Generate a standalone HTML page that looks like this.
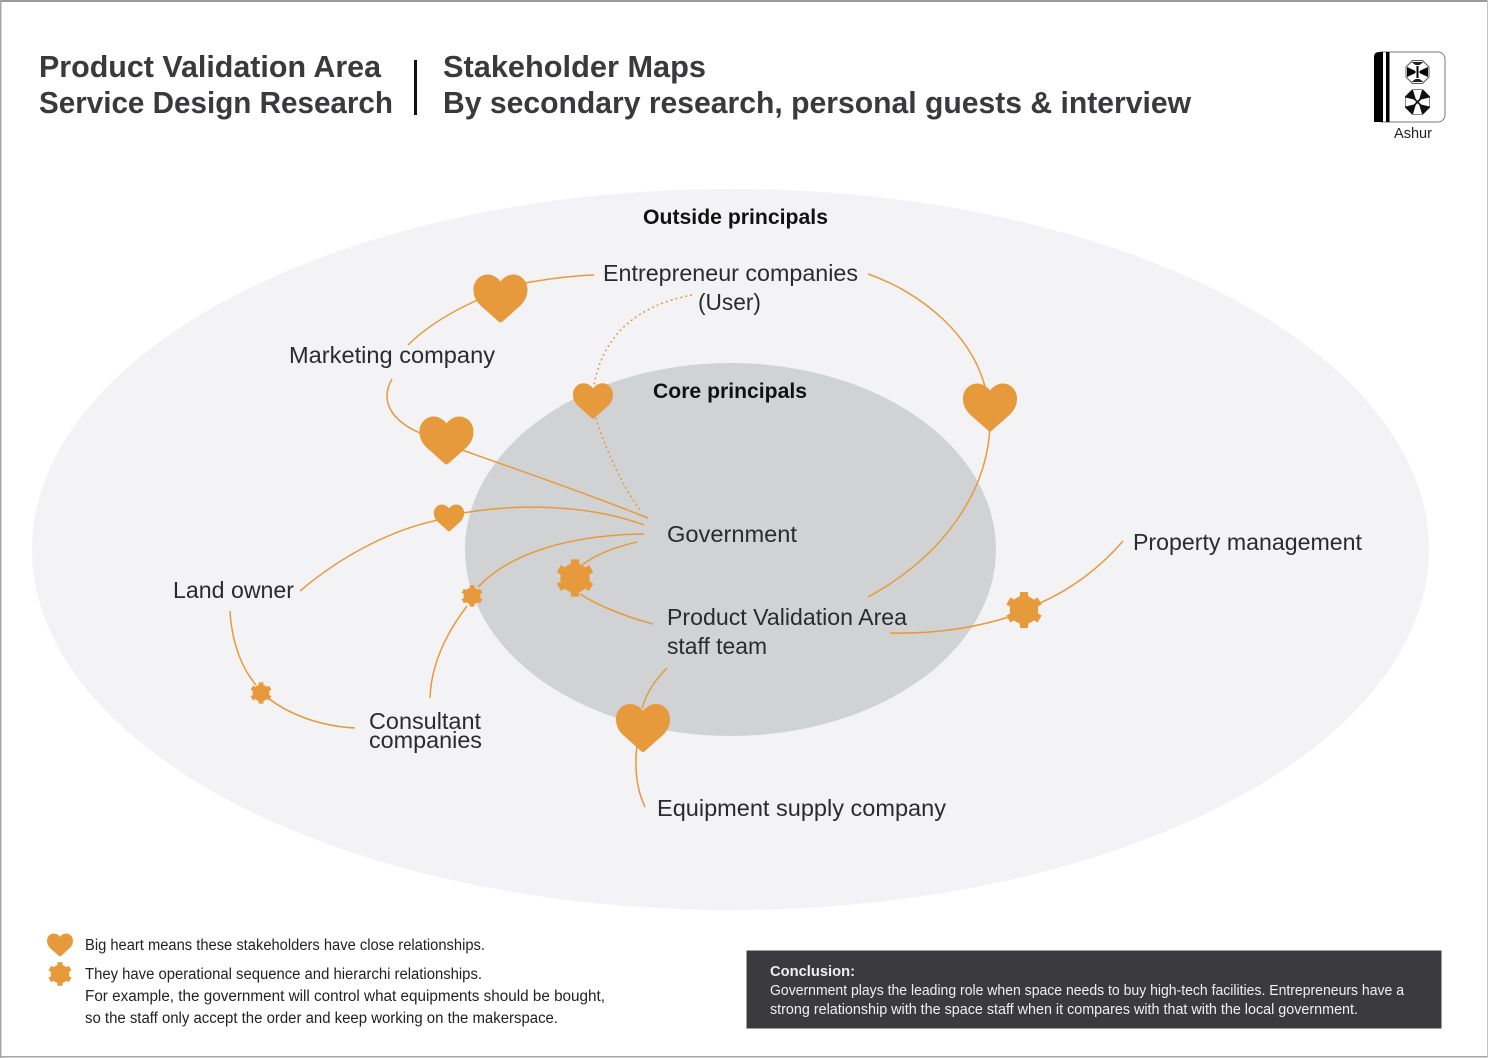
<!DOCTYPE html>
<html><head><meta charset="utf-8"><style>
html,body{margin:0;padding:0;background:#fff}
svg{display:block}
text{font-family:"Liberation Sans",sans-serif}
.t{font-size:31px;font-weight:bold;fill:#3a3a3c}
.l{font-size:23px;fill:#2b2b2d}
.h{font-size:21px;font-weight:bold;fill:#111}
.s{font-size:15.5px;fill:#222}
.c{font-size:14.5px;fill:#f0f0f0}
.e{fill:none;stroke:#e79a3b;stroke-width:1.5}
.f{fill:#e79a3b}
</style></head><body>
<svg width="1488" height="1058" viewBox="0 0 1488 1058" xmlns="http://www.w3.org/2000/svg">
<defs>
<path id="hh" d="M-2,23 L-20,7 C-25,2 -27,-3 -27,-9 C-27,-18 -20,-24 -13,-24 C-7,-24 -2,-20 0,-17 C2,-20 7,-24 13,-24 C20,-24 27,-18 27,-9 C27,-3 25,2 20,7 L2,23 Q0,25 -2,23Z"/>
<g id="gg"><circle r="15"/><g stroke="#e79a3b" stroke-width="8.5"><line x1="0" y1="-19" x2="0" y2="19"/><line x1="-16.5" y1="-9.5" x2="16.5" y2="9.5"/><line x1="-16.5" y1="9.5" x2="16.5" y2="-9.5"/></g></g>
</defs>
<rect width="1488" height="1058" fill="#fff"/>
<rect x="0" y="0" width="1488" height="2" fill="#9a9a9a"/>
<rect x="0" y="0" width="1.5" height="1058" fill="#a5a5a5"/>
<rect x="0" y="1056" width="1488" height="1.5" fill="#a5a5a5"/>
<rect x="1487" y="0" width="1" height="1058" fill="#c5c5c5"/>

<text class="t" x="39" y="77" textLength="342" lengthAdjust="spacingAndGlyphs">Product Validation Area</text>
<text class="t" x="39" y="113" textLength="354" lengthAdjust="spacingAndGlyphs">Service Design Research</text>
<rect x="414" y="60" width="3" height="55" fill="#111"/>
<text class="t" x="443" y="77" textLength="263" lengthAdjust="spacingAndGlyphs">Stakeholder Maps</text>
<text class="t" x="443" y="113" textLength="748" lengthAdjust="spacingAndGlyphs">By secondary research, personal guests &amp; interview</text>

<!-- logo -->
<rect x="1375" y="52" width="70" height="70" rx="7" fill="#fff" stroke="#777" stroke-width="1"/>
<path d="M1383,52 h-4 q-5,0 -5,5 v65 h9z" fill="#000"/>
<rect x="1386" y="52" width="3.5" height="70" fill="#000"/>
<g transform="translate(1417.5 72)">
<path d="M-5,-11.5 H5 L11.5,-5 V5 L5,11.5 H-5 L-11.5,5 V-5Z" fill="#fff" stroke="#555" stroke-width="1"/>
<path d="M-10.5,-5 L-2,-1 V1 L-10.5,5Z M10.5,-5 L2,-1 V1 L10.5,5Z" fill="#000"/>
<path d="M-6,-10 H6 L2,-7 H-2Z M-6,10 H6 L2,7 H-2Z" fill="#222"/>
<rect x="-1" y="-6" width="2" height="12" fill="#000"/>
</g>
<g transform="translate(1417.5 102)">
<path d="M-5.5,-12.5 H5.5 L12.5,-5.5 V5.5 L5.5,12.5 H-5.5 L-12.5,5.5 V-5.5Z" fill="#111"/>
<path d="M-4.5,-12 H4.5 L1.5,-2 L12,-4.5 V4.5 L1.5,2 L4.5,12 H-4.5 L-1.5,2 L-12,4.5 V-4.5 L-1.5,-2Z" fill="#fff"/>
<path d="M-4,-4 L4,4 M-4,4 L4,-4" stroke="#111" stroke-width="1.6"/>
</g>
<text x="1394" y="138" font-size="14.5" fill="#222" textLength="38" lengthAdjust="spacingAndGlyphs">Ashur</text>

<ellipse cx="730.5" cy="549.5" rx="698.5" ry="360.5" fill="#f3f3f5"/>
<ellipse cx="730.5" cy="549.5" rx="265.5" ry="186.5" fill="#d1d2d4"/>

<!-- connectors -->
<path class="e" d="M594,275 C565,276 540,280 515,285"/>
<path class="e" d="M408,345 C425,328 450,312 482,298"/>
<path class="e" d="M868,274 C920,292 975,335 987,395"/>
<path class="e" d="M990,425 C988,490 945,555 868,597"/>
<path class="e" d="M692,295 C650,303 605,325 594,385" stroke-dasharray="2 3"/>
<path class="e" d="M596,418 C605,450 625,490 640,510" stroke-dasharray="2 3"/>
<path class="e" d="M392,379 C380,400 390,420 420,433"/>
<path class="e" d="M462,450 C530,474 590,495 648,518"/>
<path class="e" d="M300,591 C340,557 390,530 438,520"/>
<path class="e" d="M463,513 C520,503 590,505 644,525"/>
<path class="e" d="M644,534 C570,535 510,553 478,587"/>
<path class="e" d="M637,542 C615,547 595,555 582,565"/>
<path class="e" d="M580,594 C600,607 630,618 653,624"/>
<path class="e" d="M467,606 C445,635 431,665 430,698"/>
<path class="e" d="M230,611 C232,645 243,670 256,685"/>
<path class="e" d="M268,698 C290,715 320,726 355,728"/>
<path class="e" d="M890,633 C935,634 975,628 1012,616"/>
<path class="e" d="M1040,603 C1070,590 1100,568 1123,541"/>
<path class="e" d="M667,668 C655,680 647,692 642,708"/>
<path class="e" d="M637,745 C634,770 637,790 645,807"/>

<!-- hearts -->
<use href="#hh" class="f" transform="translate(500.5 298.5)"/>
<use href="#hh" class="f" transform="translate(446.5 440.5)"/>
<use href="#hh" class="f" transform="translate(990 407.5)"/>
<use href="#hh" class="f" transform="translate(643 728)"/>
<use href="#hh" class="f" transform="translate(593 401) scale(.74)"/>
<use href="#hh" class="f" transform="translate(449 518) scale(.56)"/>
<use href="#hh" class="f" transform="translate(60 945) scale(.48)"/>
<!-- gears -->
<use href="#gg" class="f" transform="translate(575 578) scale(.98)"/>
<use href="#gg" class="f" transform="translate(1024 610) scale(.95)"/>
<use href="#gg" class="f" transform="translate(472 596) scale(.56)"/>
<use href="#gg" class="f" transform="translate(261 693) scale(.56)"/>
<use href="#gg" class="f" transform="translate(60 974) scale(.62)"/>

<!-- labels -->
<text class="h" x="643" y="224" textLength="185" lengthAdjust="spacingAndGlyphs">Outside principals</text>
<text class="h" x="653" y="398" textLength="154" lengthAdjust="spacingAndGlyphs">Core principals</text>
<text class="l" x="603" y="281" textLength="255" lengthAdjust="spacingAndGlyphs">Entrepreneur companies</text>
<text class="l" x="698" y="310" textLength="63" lengthAdjust="spacingAndGlyphs">(User)</text>
<text class="l" x="289" y="363" textLength="206" lengthAdjust="spacingAndGlyphs">Marketing company</text>
<text class="l" x="667" y="542" textLength="130" lengthAdjust="spacingAndGlyphs">Government</text>
<text class="l" x="1133" y="550" textLength="229" lengthAdjust="spacingAndGlyphs">Property management</text>
<text class="l" x="173" y="598" textLength="121" lengthAdjust="spacingAndGlyphs">Land owner</text>
<text class="l" x="667" y="625" textLength="240" lengthAdjust="spacingAndGlyphs">Product Validation Area</text>
<text class="l" x="667" y="654" textLength="100" lengthAdjust="spacingAndGlyphs">staff team</text>
<text class="l" x="369" y="729" textLength="112" lengthAdjust="spacingAndGlyphs">Consultant</text>
<text class="l" x="369" y="748" textLength="113" lengthAdjust="spacingAndGlyphs">companies</text>
<text class="l" x="657" y="816" textLength="289" lengthAdjust="spacingAndGlyphs">Equipment supply company</text>

<!-- legend -->
<text class="s" x="85" y="950" textLength="400" lengthAdjust="spacingAndGlyphs">Big heart means these stakeholders have close relationships.</text>
<text class="s" x="85" y="979" textLength="397" lengthAdjust="spacingAndGlyphs">They have operational sequence and hierarchi relationships.</text>
<text class="s" x="85" y="1001" textLength="520" lengthAdjust="spacingAndGlyphs">For example, the government will control what equipments should be bought,</text>
<text class="s" x="85" y="1023" textLength="473" lengthAdjust="spacingAndGlyphs">so the staff only accept the order and keep working on the makerspace.</text>

<!-- conclusion -->
<rect x="746.5" y="950.5" width="695" height="78" fill="#3b3b3d"/>
<text class="c" x="770" y="976" font-weight="bold" textLength="85" lengthAdjust="spacingAndGlyphs">Conclusion:</text>
<text class="c" x="770" y="995" textLength="634" lengthAdjust="spacingAndGlyphs">Government plays the leading role when space needs to buy high-tech facilities. Entrepreneurs have a</text>
<text class="c" x="770" y="1014" textLength="588" lengthAdjust="spacingAndGlyphs">strong relationship with the space staff when it compares with that with the local government.</text>
</svg>
</body></html>
